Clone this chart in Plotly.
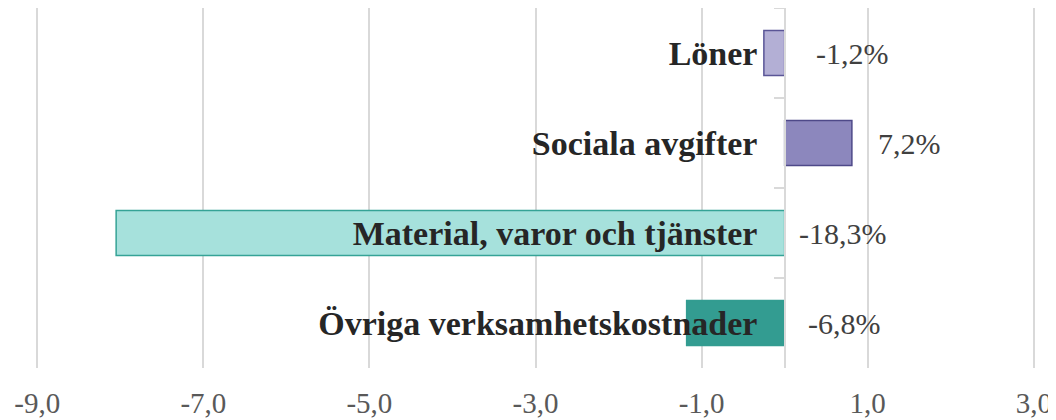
import plotly.graph_objects as go

categories = ["Löner", "Sociala avgifter", "Material, varor och tjänster", "Övriga verksamhetskostnader"]
values = [-0.25, 0.81, -8.05, -1.18]
pct_labels = ["-1,2%", "7,2%", "-18,3%", "-6,8%"]
x_ticks = [-9, -7, -5, -3, -1, 1, 3]
x_tick_text = ["-9,0", "-7,0", "-5,0", "-3,0", "-1,0", "1,0", "3,0"]

fills = ["#B3AFD5", "#8C87BD", "#A6E1DC", "#339C91"]
borders = ["#5A5596", "#4E4989", "#35A396", "#339C91"]
label_shift = [29, 24, 12, 21]

serif = "Liberation Serif"

fig = go.Figure()
fig.add_trace(go.Bar(
    x=values,
    y=categories,
    orientation="h",
    marker=dict(color=fills, line=dict(color=borders, width=1.5)),
    showlegend=False,
    hoverinfo="skip",
))

for cat, v, txt, dx in zip(categories, values, pct_labels, label_shift):
    fig.add_annotation(
        x=max(v, 0), y=cat, xref="x", yref="y",
        text=txt, showarrow=False, xanchor="left", xshift=dx,
        font=dict(family=serif, size=30, color="#404040"),
    )

# the page body has an 8px margin, so the figure is 8px smaller than the window
fig.update_layout(
    width=1048,
    height=412,
    margin=dict(l=28, r=21, t=0, b=52),
    plot_bgcolor="white",
    paper_bgcolor="white",
    bargap=0.5,
    xaxis=dict(
        range=[-9.015, 3.015],
        tickvals=x_ticks,
        ticktext=x_tick_text,
        showgrid=True,
        gridcolor="#D9D9D9",
        gridwidth=2,
        zeroline=False,
        showline=False,
        ticks="",
        ticklabelstandoff=15,
        automargin=False,
        tickfont=dict(family=serif, size=29, color="#595959"),
    ),
    yaxis=dict(
        categoryorder="array",
        categoryarray=categories,
        autorange="reversed",
        anchor="free",
        position=0.75,
        showline=True,
        linecolor="#D9D9D9",
        linewidth=2,
        ticks="outside",
        ticklen=10,
        tickwidth=2,
        tickcolor="#D9D9D9",
        tickson="boundaries",
        showgrid=False,
        automargin=False,
        ticklabelstandoff=20,
        tickfont=dict(family=serif, size=34, color="#262626", weight="bold"),
        layer="above traces",
    ),
)

fig.write_html("out.html")
